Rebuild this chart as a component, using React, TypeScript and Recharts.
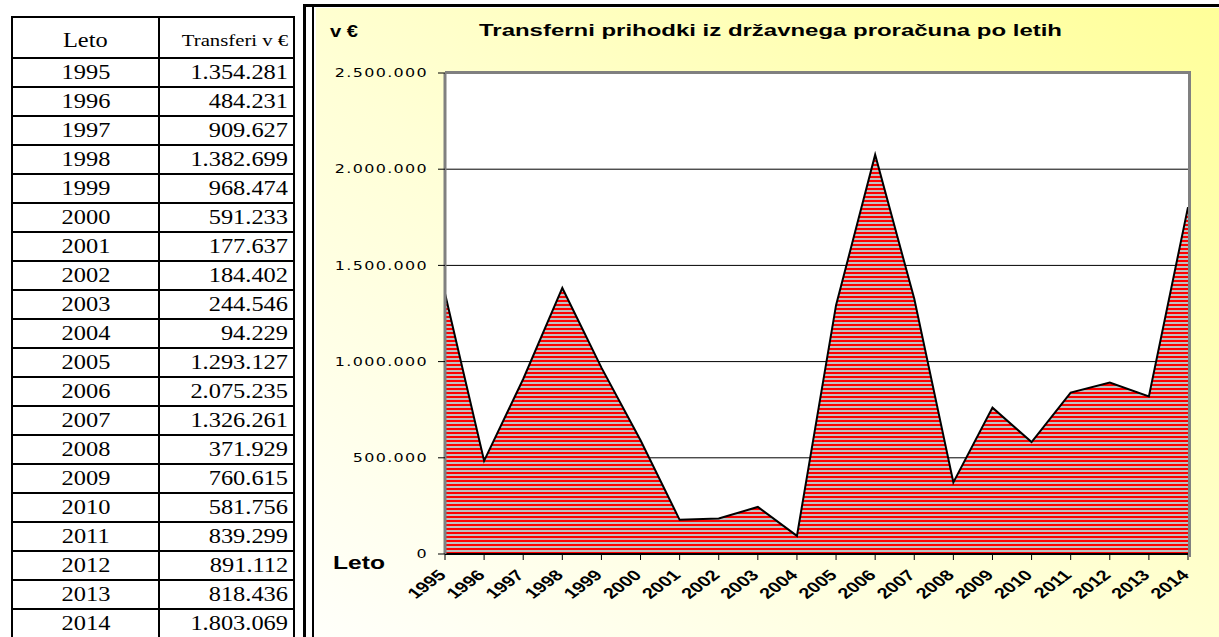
import React from 'react';
import { AreaChart, Area, XAxis, YAxis, CartesianGrid } from 'recharts';

const YEARS = [
  '1995', '1996', '1997', '1998', '1999', '2000', '2001', '2002', '2003', '2004',
  '2005', '2006', '2007', '2008', '2009', '2010', '2011', '2012', '2013', '2014',
];
const TRANSFERS = [
  1354281, 484231, 909627, 1382699, 968474, 591233, 177637, 184402, 244546, 94229,
  1293127, 2075235, 1326261, 371929, 760615, 581756, 839299, 891112, 818436, 1803069,
];
const Y_TICKS = [0, 500000, 1000000, 1500000, 2000000, 2500000];

const TITLE = 'Transferni prihodki iz državnega proračuna po letih';
const UNIT = 'v €';
const X_LABEL = 'Leto';
const TABLE_HEAD = ['Leto', 'Transferi v €'];

const STRETCH = 1.33;

function fmt(v: number): string {
  return String(v).replace(/\B(?=(\d{3})+(?!\d))/g, '.');
}

const chartData = YEARS.map((year, i) => ({ year, value: TRANSFERS[i] }));

function YTick({ x, y, payload }: any) {
  return (
    <text
      transform={`translate(${x},${y}) scale(${STRETCH},1)`}
      textAnchor="end"
      dominantBaseline="central"
      fontFamily="DejaVu Sans"
      fontSize={12}
      letterSpacing={1}
      fill="#000"
    >
      {fmt(payload.value)}
    </text>
  );
}

function XTick({ x, y, payload }: any) {
  return (
    <text
      transform={`translate(${x + 2},${y + 14}) scale(${STRETCH},1) rotate(-45)`}
      textAnchor="end"
      fontFamily="Liberation Sans, Arial"
      fontWeight="bold"
      fontSize={15}
      fill="#000"
    >
      {payload.value}
    </text>
  );
}

const cell: React.CSSProperties = {
  border: '2px solid #000',
  padding: '0 5px',
  height: 27,
  lineHeight: '25px',
};

function Wide({ children, origin }: { children: React.ReactNode; origin: string }) {
  return (
    <span style={{ display: 'inline-block', transform: 'scaleX(1.22)', transformOrigin: origin }}>
      {children}
    </span>
  );
}

export default function App() {
  return (
    <div
      style={{
        position: 'absolute',
        left: 0,
        top: 0,
        width: 1219,
        height: 637,
        overflow: 'hidden',
        background: '#fff',
      }}
    >
      {/* data table */}
      <table
        style={{
          position: 'absolute',
          left: 11,
          top: 16,
          width: 282,
          borderCollapse: 'collapse',
          fontFamily: '"Liberation Serif", "Times New Roman", serif',
          fontSize: 20,
          color: '#000',
          tableLayout: 'fixed',
        }}
      >
        <colgroup>
          <col style={{ width: 147 }} />
          <col style={{ width: 135 }} />
        </colgroup>
        <thead>
          <tr>
            <td style={{ ...cell, height: 34, paddingTop: 5, textAlign: 'center' }}>
              <Wide origin="center">{TABLE_HEAD[0]}</Wide>
            </td>
            <td style={{ ...cell, height: 34, paddingTop: 5, textAlign: 'right', fontSize: 17 }}>
              <Wide origin="right">{TABLE_HEAD[1]}</Wide>
            </td>
          </tr>
        </thead>
        <tbody>
          {YEARS.map((y, i) => (
            <tr key={y}>
              <td style={{ ...cell, textAlign: 'center' }}>
                <Wide origin="center">{y}</Wide>
              </td>
              <td style={{ ...cell, textAlign: 'right' }}>
                <Wide origin="right">{fmt(TRANSFERS[i])}</Wide>
              </td>
            </tr>
          ))}
        </tbody>
      </table>

      {/* chart frame */}
      <div
        style={{
          position: 'absolute',
          left: 303,
          top: 4,
          width: 930,
          height: 660,
          borderLeft: '3px solid #000',
          borderTop: '3px solid #000',
        }}
      />
      <div
        style={{
          position: 'absolute',
          left: 312,
          top: 7,
          width: 920,
          height: 660,
          borderLeft: '2px solid #000',
        }}
      />
      <div
        style={{
          position: 'absolute',
          left: 316,
          top: 8,
          width: 903,
          height: 629,
          background: 'linear-gradient(to top right, #FFFFFA 0%, #FFFFD6 45%, #FFFF99 100%)',
        }}
      >
        <AreaChart
          width={903}
          height={629}
          data={chartData}
          margin={{ top: 65, right: 31, left: 0, bottom: 23 }}
        >
          <defs>
            <pattern id="stripes" width="4" height="4" patternUnits="userSpaceOnUse">
              <rect width="4" height="4" fill="#FF0000" />
              <rect y="2" width="4" height="2" fill="#C0C0C0" />
            </pattern>
          </defs>
          <CartesianGrid vertical={false} stroke="#000" strokeWidth={1} fill="#fff" />
          <XAxis
            dataKey="year"
            height={60}
            interval={0}
            tick={<XTick />}
            tickSize={6}
            axisLine={{ stroke: '#000', strokeWidth: 2 }}
            tickLine={{ stroke: '#000' }}
          />
          <YAxis
            width={129}
            domain={[0, 2500000]}
            ticks={Y_TICKS}
            interval={0}
            tick={<YTick />}
            tickSize={7}
            tickMargin={10}
            axisLine={{ stroke: '#808080', strokeWidth: 3 }}
            tickLine={{ stroke: '#000' }}
          />
          <Area
            type="linear"
            dataKey="value"
            stroke="#000"
            strokeWidth={2}
            fill="url(#stripes)"
            fillOpacity={1}
            isAnimationActive={false}
            dot={false}
            activeDot={false}
          />
        </AreaChart>

        {/* plot area border (top / right) */}
        <div
          style={{
            position: 'absolute',
            left: 129,
            top: 63,
            width: 743,
            height: 483,
            borderTop: '3px solid #808080',
            borderRight: '3px solid #808080',
            pointerEvents: 'none',
          }}
        />

        <svg
          width={903}
          height={629}
          style={{ position: 'absolute', left: 0, top: 0, pointerEvents: 'none' }}
        >
          <text
            x={14}
            y={23}
            dominantBaseline="central"
            fontFamily="Liberation Sans, Arial"
            fontWeight="bold"
            fontSize={16}
            textLength={28}
            lengthAdjust="spacingAndGlyphs"
          >
            {UNIT}
          </text>
          <text
            x={163}
            y={22}
            dominantBaseline="central"
            fontFamily="Liberation Sans, Arial"
            fontWeight="bold"
            fontSize={17}
            textLength={583}
            lengthAdjust="spacingAndGlyphs"
          >
            {TITLE}
          </text>
          <text
            x={17}
            y={555}
            dominantBaseline="central"
            fontFamily="Liberation Sans, Arial"
            fontWeight="bold"
            fontSize={18}
            textLength={52}
            lengthAdjust="spacingAndGlyphs"
          >
            {X_LABEL}
          </text>
        </svg>
      </div>
    </div>
  );
}
